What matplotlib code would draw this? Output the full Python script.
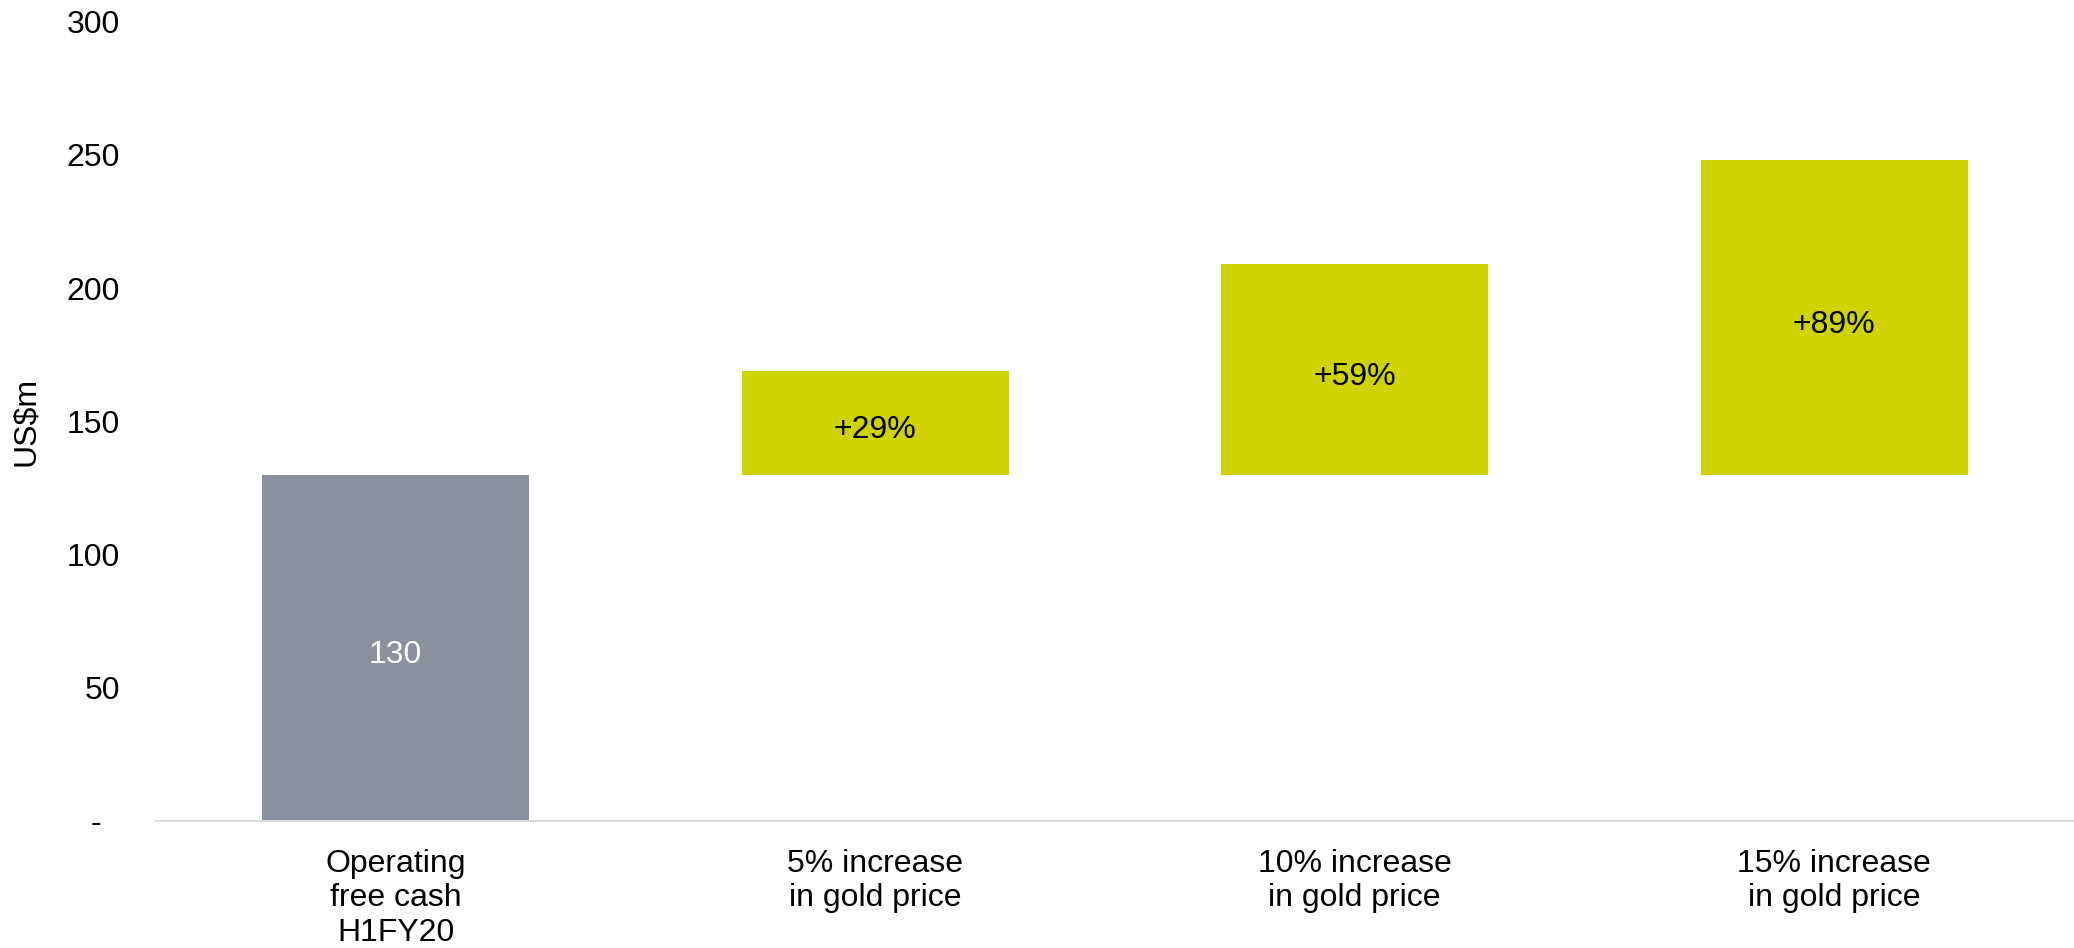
import numpy as np
import matplotlib.pyplot as plt

plt.rcParams['font.family'] = ['Liberation Sans', 'DejaVu Sans']

# data
categories = ['Operating\nfree cash\nH1FY20', '5% increase\nin gold price',
              '10% increase\nin gold price', '15% increase\nin gold price']
base_value = 130
increments = [39, 79, 118]
increment_labels = ['+29%', '+59%', '+89%']
y_ticks = [0, 50, 100, 150, 200, 250, 300]
y_tick_labels = ['-  ', '50', '100', '150', '200', '250', '300']

grey = '#8a909e'
lime = '#cfd400'
fs = 23

fig = plt.figure(figsize=(20.74, 9.48), dpi=100)
ax = fig.add_axes([0.0752, 0.134, 0.9248, 0.843])

x = np.arange(len(categories))
width = 0.556

# first bar: the base
ax.bar(x[0], base_value, width, color=grey)
ax.annotate(str(base_value), (x[0], base_value / 2), xytext=(0, -3),
            textcoords='offset points', ha='center', va='center_baseline',
            color='white', fontsize=fs)

# floating bars on top of the base
ax.bar(x[1:], increments, width, bottom=base_value, color=lime)
for xi, inc, lab in zip(x[1:], increments, increment_labels):
    ax.annotate(lab, (xi, base_value + inc / 2), xytext=(0, -3),
                textcoords='offset points', ha='center', va='center_baseline',
                color='black', fontsize=fs)

ax.set_xlim(-0.5, 3.5)
ax.set_ylim(0, 300)
ax.set_xticks(x)
ax.set_xticklabels(categories, fontsize=fs, linespacing=1.2)
ax.set_yticks(y_ticks)
ax.set_yticklabels(y_tick_labels, fontsize=fs)
ax.tick_params(axis='both', length=0)
ax.tick_params(axis='x', pad=20)
ax.tick_params(axis='y', pad=26)
ax.set_ylabel('US$m', fontsize=fs, labelpad=18)

for side in ['top', 'right', 'left']:
    ax.spines[side].set_visible(False)
ax.spines['bottom'].set_color('#d9d9d9')
ax.spines['bottom'].set_linewidth(1.5)

plt.savefig('out.png', dpi=100)
